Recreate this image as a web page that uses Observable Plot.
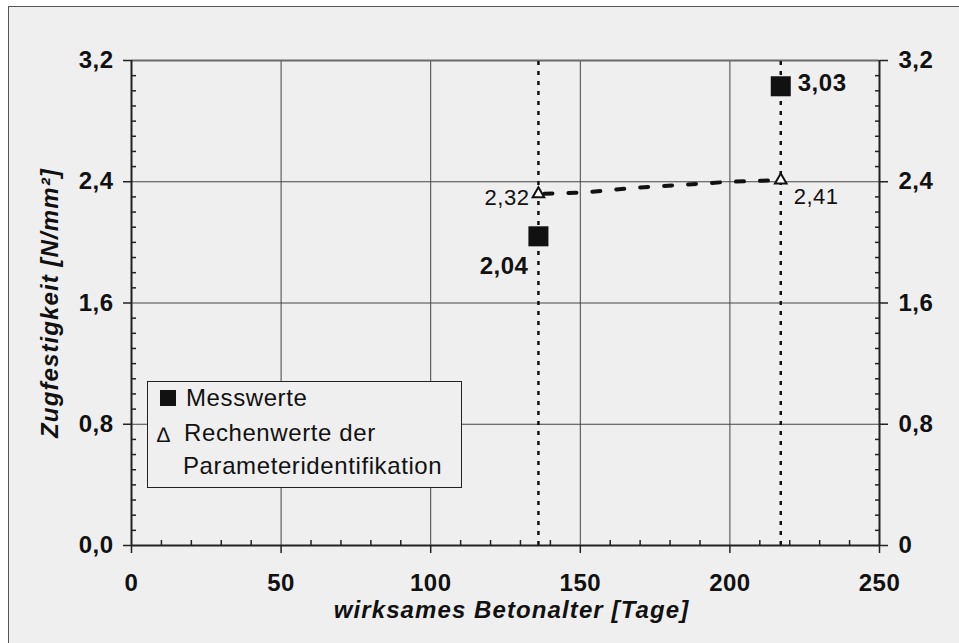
<!DOCTYPE html>
<html>
<head>
<meta charset="utf-8">
<script src="https://cdn.jsdelivr.net/npm/d3@7"></script>
<script src="https://cdn.jsdelivr.net/npm/@observablehq/plot@0.6"></script>
<style>
  html, body { margin: 0; padding: 0; background: #ffffff; }
  #wrap { position: relative; width: 959px; height: 643px; overflow: hidden; font-family: "Liberation Sans", Arial, sans-serif; }
  #bg { position: absolute; left: 8px; top: 6px; right: 0; bottom: 0; background: #efefef; border-left: 1.5px solid #555; border-top: 1.5px solid #555; }
  #chart { position: absolute; left: 0; top: 0; }
  #chart svg text { letter-spacing: 0.5px; }
  #legend { position: absolute; left: 147px; top: 381px; width: 313px; height: 105px; border: 1px solid #222; background: #efefef; color: #111; font-size: 24px; line-height: 33px; letter-spacing: 0.6px; box-sizing: content-box; }
  #legend .row { position: absolute; left: 0; white-space: nowrap; }
  #legend .sq { position: absolute; left: 12px; top: 8px; width: 16px; height: 16px; background: #111; }
</style>
</head>
<body>
<div id="wrap">
  <div id="bg"></div>
  <div id="chart"></div>
  <div id="legend"></div>
</div>
<script>
// ---- data ----
const seriesNames = ["Messwerte", "Rechenwerte der", "Parameteridentifikation"];
const messAge = [136, 217];
const messValue = [2.04, 3.03];
const messLabels = ["2,04", "3,03"];
const rechAge = [136, 217];
const rechValue = [2.32, 2.41];
const rechLabels = ["2,32", "2,41"];
// dashed computed curve between the two triangles
const curveAge = [136, 152, 168, 184, 200, 217];
const curveValue = [2.32, 2.33, 2.36, 2.38, 2.40, 2.41];
const testAges = [136, 217];
const xTicks = [0, 50, 100, 150, 200, 250];
const xGrid = [50, 100, 150, 200];
const xMinor = [10, 20, 30, 40, 60, 70, 80, 90, 110, 120, 130, 140, 160, 170, 180, 190, 210, 220, 230, 240];
const yTicks = [0, 0.8, 1.6, 2.4, 3.2];
const yTickLabelsLeft = ["0,0", "0,8", "1,6", "2,4", "3,2"];
const yTickLabelsRight = ["0", "0,8", "1,6", "2,4", "3,2"];
const yGrid = [0.8, 1.6, 2.4];
const yMinor = [0.1,0.2,0.3,0.4,0.5,0.6,0.7,0.9,1.0,1.1,1.2,1.3,1.4,1.5,1.7,1.8,1.9,2.0,2.1,2.2,2.3,2.5,2.6,2.7,2.8,2.9,3.0,3.1];
const xTitle = "wirksames Betonalter [Tage]";
const yTitle = "Zugfestigkeit [N/mm²]";

const mess = messAge.map((a, i) => ({age: a, value: messValue[i], label: messLabels[i]}));
const rech = rechAge.map((a, i) => ({age: a, value: rechValue[i], label: rechLabels[i]}));
const curve = curveAge.map((a, i) => ({age: a, value: curveValue[i]}));

const ink = "#111";
const font = "'Liberation Sans', Arial, sans-serif";

const chart = Plot.plot({
  width: 959,
  height: 643,
  marginLeft: 131,
  marginRight: 80,
  marginTop: 60,
  marginBottom: 98,
  style: {background: "transparent", fontFamily: font, color: ink, overflow: "visible"},
  x: {domain: [0, 250]},
  y: {domain: [0, 3.2]},
  marks: [
    // grid
    Plot.ruleX(xGrid, {stroke: "#444", strokeWidth: 1}),
    Plot.ruleY(yGrid, {stroke: "#444", strokeWidth: 1}),
    Plot.ruleY([3.2], {stroke: "#6a6a6a", strokeWidth: 2}),
    // vertical dotted lines at test ages
    Plot.ruleX(testAges, {y1: 0, y2: 3.2, stroke: ink, strokeWidth: 2.5, strokeDasharray: "4,6"}),
    // axis lines
    Plot.ruleX([0, 250], {stroke: "#222", strokeWidth: 2}),
    Plot.ruleY([0], {stroke: "#222", strokeWidth: 2}),
    // minor ticks (inward)
    Plot.axisX({ticks: xMinor, tickSize: -5, tickFormat: () => "", label: null, stroke: "#222", strokeWidth: 1.5}),
    Plot.axisY({ticks: yMinor, anchor: "left", tickSize: -5, tickFormat: () => "", label: null, stroke: "#222", strokeWidth: 1.5}),
    Plot.axisY({ticks: yMinor, anchor: "right", tickSize: -5, tickFormat: () => "", label: null, stroke: "#222", strokeWidth: 1.5}),
    // major ticks and labels
    Plot.axisX({ticks: xTicks, tickSize: 8, tickPadding: 20, tickFormat: d => String(d), label: null,
      fontSize: 24, fontWeight: "bold", stroke: "#222", strokeWidth: 1.5, fill: ink}),
    Plot.axisY({ticks: yTicks, anchor: "left", tickSize: 8, tickPadding: 10,
      tickFormat: d => yTickLabelsLeft[yTicks.indexOf(d)], label: null,
      fontSize: 24, fontWeight: "bold", stroke: "#222", strokeWidth: 1.5, fill: ink}),
    Plot.axisY({ticks: yTicks, anchor: "right", tickSize: 8, tickPadding: 11,
      tickFormat: d => yTickLabelsRight[yTicks.indexOf(d)], label: null,
      fontSize: 24, fontWeight: "bold", stroke: "#222", strokeWidth: 1.5, fill: ink}),
    // axis titles
    Plot.text([xTitle], {frameAnchor: "bottom", dy: 65, dx: 6, text: d => d, fontSize: 24, textAnchor: "middle",
      fontWeight: "bold", fontStyle: "italic", fill: ink, lineAnchor: "middle"}),
    Plot.text([yTitle], {frameAnchor: "left", dx: -81, rotate: -90, text: d => d, fontSize: 24, textAnchor: "middle",
      fontWeight: "bold", fontStyle: "italic", fill: ink, lineAnchor: "middle"}),
    // computed curve
    Plot.line(curve, {x: "age", y: "value", stroke: ink, strokeWidth: 4, strokeDasharray: "8,16", strokeDashoffset: -6}),
    // measured squares
    Plot.dot(mess, {x: "age", y: "value", symbol: "square", r: 11.3, fill: ink, stroke: "none"}),
    // computed triangles
    Plot.dot(rech, {x: "age", y: "value", symbol: "triangle", r: 4.3, fill: "white", stroke: ink, strokeWidth: 2}),
    // value labels
    Plot.text([mess[0]], {x: "age", y: "value", text: "label", textAnchor: "end", dx: -10, dy: 30,
      fontSize: 24, fontWeight: "bold", fill: ink}),
    Plot.text([mess[1]], {x: "age", y: "value", text: "label", textAnchor: "start", dx: 17, dy: -3,
      fontSize: 24, fontWeight: "bold", fill: ink}),
    Plot.text([rech[0]], {x: "age", y: "value", text: "label", textAnchor: "end", dx: -9, dy: 4,
      fontSize: 22, fill: ink}),
    Plot.text([rech[1]], {x: "age", y: "value", text: "label", textAnchor: "start", dx: 13, dy: 17,
      fontSize: 22, fill: ink})
  ]
});
document.getElementById("chart").appendChild(chart);
d3.select(chart).selectAll("text")
  .filter(function() { return this.textContent === xTitle || this.textContent === yTitle; })
  .style("letter-spacing", "1.1px");

// legend
const legend = document.getElementById("legend");
const sq = document.createElement("div");
sq.className = "sq";
legend.appendChild(sq);
const tri = document.createElement("div");
tri.className = "row";
tri.style.left = "9px";
tri.style.top = "36px";
tri.style.fontSize = "21px";
tri.textContent = "∆";
legend.appendChild(tri);
const rowTops = [-1.5, 33.5, 66.5];
const rowLefts = [38, 36, 35];
seriesNames.forEach((name, i) => {
  const t = document.createElement("div");
  t.className = "row";
  t.style.left = rowLefts[i] + "px";
  t.style.top = rowTops[i] + "px";
  t.textContent = name;
  legend.appendChild(t);
});
</script>
</body>
</html>
